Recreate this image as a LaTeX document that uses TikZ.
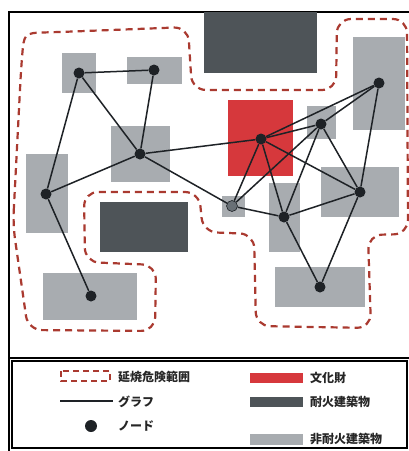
\documentclass[tikz,border=0pt]{standalone}
\usepackage{fontspec}
\newfontfamily\jp{Noto Sans CJK JP}
\definecolor{lgray}{RGB}{168,172,176}
\definecolor{dgray}{RGB}{78,84,88}
\definecolor{hred}{RGB}{214,56,60}
\definecolor{zone}{RGB}{170,58,48}
\definecolor{ncol}{RGB}{30,34,38}
\definecolor{ngray}{RGB}{105,112,118}
\tikzset{
  bldL/.style={fill=lgray},
  bldD/.style={fill=dgray},
  bldR/.style={fill=hred},
  gnode/.style={circle,fill=ncol,inner sep=0pt,minimum size=11pt},
  gnodegray/.style={circle,fill=ngray,draw=ncol,line width=0.6pt,inner sep=0pt,minimum size=11pt},
  edge/.style={line width=1.5pt,draw=ncol},
  firezone/.style={draw=zone,line width=2.2pt,dash pattern=on 7pt off 5pt},
  legtext/.style={anchor=west,inner sep=0pt,font=\jp\bfseries\fontsize{12}{14}\selectfont,text=black!85}
}
\begin{document}
\begin{tikzpicture}[x=1pt,y=-1pt]
\useasboundingbox (0,0) rectangle (409,451);
\fill[white] (0,0) rectangle (409,451);
% frames
\draw[line width=1.6pt] (409,12) -- (9,12) -- (9,451);
\draw[line width=1.6pt] (9,358) -- (409,358);
\draw[line width=1.6pt] (12,361) rectangle (407,448);
% buildings
\fill[bldD] (204,12) rectangle (317,73);
\fill[bldD] (100,202) rectangle (188,252);
\fill[bldL] (62,53) rectangle (96,93);
\fill[bldL] (127,57) rectangle (182,84);
\fill[bldL] (111,126) rectangle (170,182);
\fill[bldL] (26,154) rectangle (68,233);
\fill[bldL] (307,106) rectangle (336,139);
\fill[bldL] (353,37) rectangle (405,130);
\fill[bldL] (321,167) rectangle (399,217);
\fill[bldL] (222,196) rectangle (245,217);
\fill[bldL] (269,183) rectangle (300,252);
\fill[bldL] (43,273) rectangle (137,320);
\fill[bldL] (275,267) rectangle (365,307);
\fill[bldR] (228,100) rectangle (293,176);
% fire spread zone
\draw[firezone,rounded corners=14pt]
  (13,225) -- (21,70) .. controls (24,33) .. (60,32) -- (188,27) -- (192,90) -- (336,90)
  -- (337,19) -- (407,19) -- (408,234) -- (368,235) -- (371,328) -- (256,326)
  -- (254,234) -- (203,232) -- (199,192) -- (84,192) -- (85,262) -- (156,265)
  -- (155,331) -- (28,330) -- cycle;
% graph nodes
\node[gnode] (n1) at (79,73) {};
\node[gnode] (n2) at (154,70) {};
\node[gnode] (n3) at (140,154) {};
\node[gnode] (n4) at (46,194) {};
\node[gnode] (n5) at (91,296) {};
\node[gnode] (n6) at (261,139) {};
\node[gnode] (n7) at (321,124) {};
\node[gnode] (n8) at (379,83) {};
\node[gnodegray] (n9) at (232,206) {};
\node[gnode] (n10) at (284,217) {};
\node[gnode] (n11) at (360,192) {};
\node[gnode] (n12) at (320,287) {};
% graph edges
\foreach \a/\b in {n1/n2,n1/n3,n1/n4,n2/n3,n3/n4,n3/n6,n3/n9,n4/n5,
  n6/n7,n6/n8,n6/n9,n6/n10,n6/n11,n7/n8,n7/n9,n7/n10,n7/n11,n8/n11,
  n9/n10,n10/n11,n10/n12,n11/n12}
  \draw[edge] (\a) -- (\b);
% legend
\draw[firezone,line width=1.8pt,dash pattern=on 6pt off 4pt] (61,371) rectangle (110,381);
\node[legtext] (t1) at (118,377) {延焼危険範囲};
\coordinate (la) at (60,401);
\coordinate (lb) at (113,401);
\draw[edge,line width=1.8pt] (la) -- (lb);
\node[legtext] (t2) at (118,402) {グラフ};
\node[gnode,minimum size=12pt] (ld) at (91,426) {};
\node[legtext] (t3) at (118,426) {ノード};
\fill[bldR] (250,373) rectangle (303,383);
\node[legtext] (t4) at (310,378) {文化財};
\fill[bldD] (250,397) rectangle (303,407);
\node[legtext] (t5) at (310,402) {耐火建築物};
\fill[bldL] (250,434) rectangle (303,445);
\node[legtext] (t6) at (310,439) {非耐火建築物};
\end{tikzpicture}
\end{document}
